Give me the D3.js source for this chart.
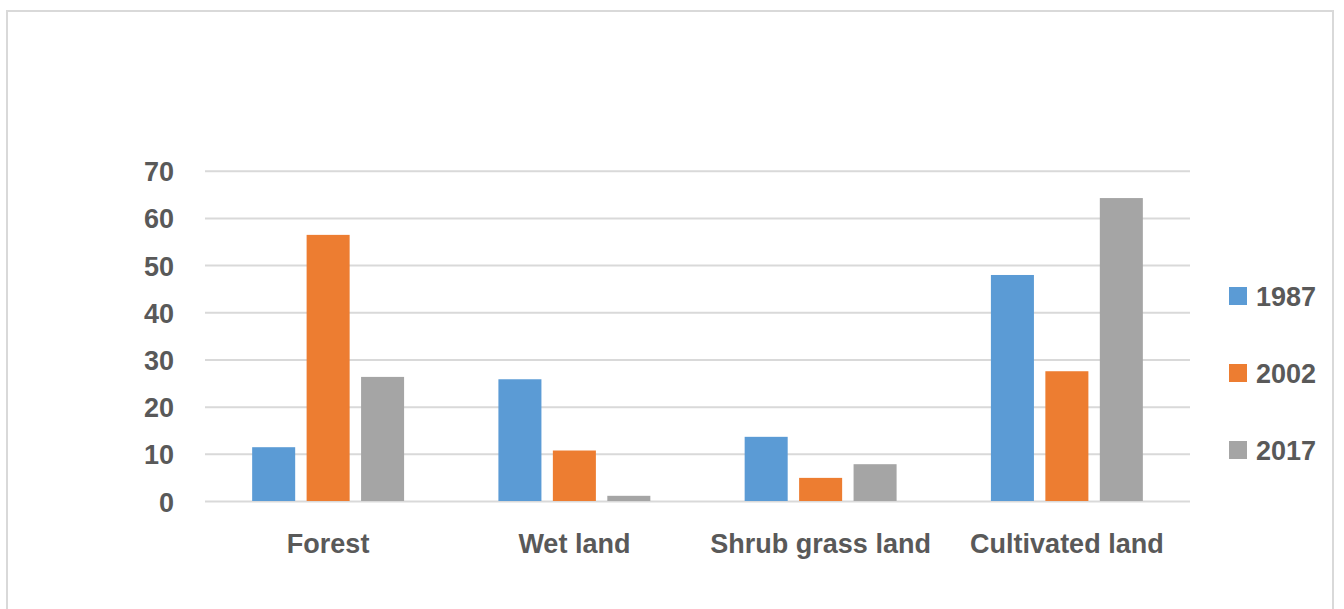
<!DOCTYPE html>
<html>
<head>
<meta charset="utf-8">
<script src="https://cdn.jsdelivr.net/npm/d3@7"></script>
<style>
  body { margin: 0; background: #fff; }
  text { font-family: "Liberation Sans", Arial, sans-serif; font-weight: bold; fill: #595959; }
</style>
</head>
<body>
<div id="chart"></div>
<script>
// chart data
var categories = ["Forest", "Wet land", "Shrub grass land", "Cultivated land"];
var years = ["1987", "2002", "2017"];
var v1987 = [11.4, 25.8, 13.6, 47.9];
var v2002 = [56.4, 10.7, 4.9, 27.5];
var v2017 = [26.3, 1.1, 7.8, 64.2];
var yTicks = [0, 10, 20, 30, 40, 50, 60, 70];

var seriesValues = [v1987, v2002, v2017];
var colors = ["#5b9bd5", "#ed7d31", "#a5a5a5"];

var svgWidth = 1344;
var svgHeight = 609;

var margin = { top: 170.7, left: 205 };
var width = 985;
var height = 330.3;

var svg = d3.select("#chart")
  .append("svg")
  .attr("width", svgWidth)
  .attr("height", svgHeight);

// outer frame of the chart area
svg.append("rect")
  .attr("x", 7)
  .attr("y", 11)
  .attr("width", 1326)
  .attr("height", 640)
  .attr("fill", "none")
  .attr("stroke", "#d9d9d9")
  .attr("stroke-width", 2);

var chartGroup = svg.append("g")
  .attr("transform", `translate(${margin.left}, ${margin.top})`);

var pad = 0.383;
var x0 = d3.scaleBand()
  .domain(categories)
  .range([0, width])
  .paddingInner(pad)
  .paddingOuter(pad / 2);

var x1 = d3.scaleBand()
  .domain(years)
  .range([0, x0.bandwidth()])
  .paddingInner(0.21);

var y = d3.scaleLinear()
  .domain([0, 70])
  .range([height, 0]);

// y axis with gridlines
var leftAxis = d3.axisLeft(y)
  .tickValues(yTicks)
  .tickSize(-width)
  .tickPadding(31);

var yAxis = chartGroup.append("g").call(leftAxis);
yAxis.select(".domain").remove();
yAxis.selectAll("line").attr("stroke", "#d9d9d9").attr("stroke-width", 2);
yAxis.selectAll("text")
  .attr("dy", "0.37em")
  .style("font-size", "27px")
  .style("font-family", "'Liberation Sans', Arial, sans-serif")
  .style("font-weight", "bold")
  .attr("fill", "#595959");

// x axis labels
var bottomAxis = d3.axisBottom(x0).tickSize(0).tickPadding(33);
var xAxis = chartGroup.append("g")
  .attr("transform", `translate(0, ${height})`)
  .call(bottomAxis);
xAxis.select(".domain").remove();
xAxis.selectAll("text")
  .style("font-size", "27px")
  .style("font-family", "'Liberation Sans', Arial, sans-serif")
  .style("font-weight", "bold")
  .attr("fill", "#595959");

// bars
var groups = chartGroup.selectAll(".cat")
  .data(categories)
  .enter()
  .append("g")
  .attr("class", "cat")
  .attr("transform", d => `translate(${x0(d)}, 0)`);

groups.selectAll("rect")
  .data((d, i) => years.map((yr, j) => ({ year: yr, value: seriesValues[j][i], color: colors[j] })))
  .enter()
  .append("rect")
  .attr("x", d => x1(d.year))
  .attr("y", d => y(d.value))
  .attr("width", x1.bandwidth())
  .attr("height", d => height - y(d.value))
  .attr("fill", d => d.color);

// legend
var legendY = d3.scalePoint()
  .domain(years)
  .range([296, 450]);

var legend = svg.selectAll(".legend")
  .data(years)
  .enter()
  .append("g")
  .attr("class", "legend")
  .attr("transform", d => `translate(1229, ${legendY(d)})`);

legend.append("rect")
  .attr("x", 0)
  .attr("y", -9)
  .attr("width", 18)
  .attr("height", 18)
  .attr("fill", (d, i) => colors[i]);

legend.append("text")
  .attr("x", 27)
  .attr("y", 0)
  .attr("dy", "0.36em")
  .style("font-size", "27px")
  .text(d => d);
</script>
</body>
</html>
